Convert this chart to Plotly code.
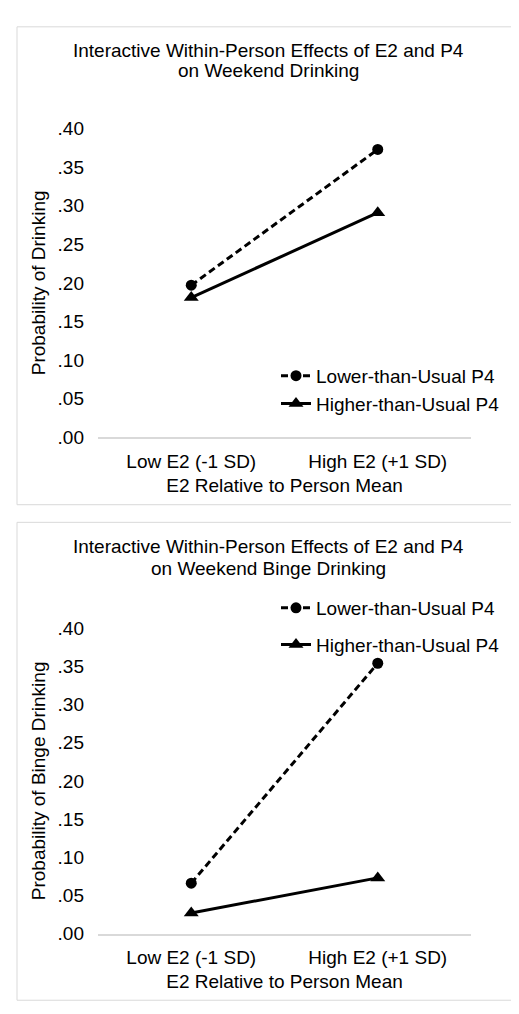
import plotly.graph_objects as go

# ---- data ----
categories = ["Low E2 (-1 SD)", "High E2 (+1 SD)"]
series_names = ["Lower-than-Usual P4", "Higher-than-Usual P4"]
drinking_lower = [0.197, 0.373]
drinking_higher = [0.181, 0.291]
binge_lower = [0.066, 0.354]
binge_higher = [0.027, 0.073]
y_tick_vals = [0.00, 0.05, 0.10, 0.15, 0.20, 0.25, 0.30, 0.35, 0.40]
y_tick_text = [".00", ".05", ".10", ".15", ".20", ".25", ".30", ".35", ".40"]
title_top = ["Interactive Within-Person Effects of E2 and P4", "on Weekend Drinking"]
title_bottom = ["Interactive Within-Person Effects of E2 and P4", "on Weekend Binge Drinking"]
x_title = "E2 Relative to Person Mean"
y_title_top = "Probability of Drinking"
y_title_bottom = "Probability of Binge Drinking"

W, H = 519, 1014
FONT = "Liberation Sans, Arial, sans-serif"
FS = 19
GRAY = "#d9d9d9"

def px_x(x):
    return x / W

def px_y(y):
    return 1 - y / H

fig = go.Figure()

def add_series(xa, ya, legend, lower, higher):
    fig.add_trace(go.Scatter(
        x=categories, y=lower, name=series_names[0], xaxis=xa, yaxis=ya,
        mode="lines+markers", legend=legend, legendgroup=legend + "a",
        line=dict(color="black", width=3, dash="7px,4px"),
        marker=dict(symbol="circle", size=11, color="black"),
    ))
    fig.add_trace(go.Scatter(
        x=categories, y=higher, name=series_names[1], xaxis=xa, yaxis=ya,
        mode="lines+markers", legend=legend, legendgroup=legend + "b",
        line=dict(color="black", width=3),
        marker=dict(symbol="triangle-up", size=13, color="black"),
    ))

add_series("x", "y", "legend", drinking_lower, drinking_higher)
add_series("x2", "y2", "legend2", binge_lower, binge_higher)

def xaxis_cfg(anchor):
    return dict(
        domain=[px_x(90), px_x(463)], anchor=anchor, type="category",
        range=[-0.5, 1.5], showline=True, linecolor=GRAY, linewidth=1.5,
        showgrid=False, zeroline=False, ticks="", ticklabelstandoff=6,
        tickfont=dict(family=FONT, size=FS, color="#000"),
        title=dict(text=x_title, font=dict(family=FONT, size=FS, color="#000"), standoff=8),
    )

def yaxis_cfg(anchor, top, bottom, title):
    return dict(
        domain=[px_y(bottom), px_y(top)], anchor=anchor, range=[0, 0.40],
        showline=False, showgrid=False, zeroline=False, ticks="",
        tickvals=y_tick_vals, ticktext=y_tick_text, ticklabelstandoff=13,
        tickfont=dict(family=FONT, size=FS, color="#000"),
        title=dict(text=title, font=dict(family=FONT, size=FS, color="#000"), standoff=6),
    )

annotations = []
for lines, ys in ((title_top, (33, 54)), (title_bottom, (540, 562))):
    for txt, yy in zip(lines, ys):
        annotations.append(dict(
            text=txt, x=px_x(260), y=px_y(yy), xref="paper", yref="paper",
            xanchor="center", yanchor="middle", showarrow=False,
            font=dict(family=FONT, size=FS, color="#000"),
        ))

shapes = [
    dict(type="rect", xref="paper", yref="paper", x0=px_x(9), x1=px_x(510),
         y0=px_y(497), y1=px_y(9), line=dict(color=GRAY, width=1)),
    dict(type="rect", xref="paper", yref="paper", x0=px_x(9), x1=px_x(510),
         y0=px_y(1003), y1=px_y(515), line=dict(color=GRAY, width=1)),
]

legend_font = dict(family=FONT, size=FS, color="#000")
fig.update_layout(
    width=W, height=H, margin=dict(l=0, r=0, t=0, b=0),
    paper_bgcolor="white", plot_bgcolor="white",
    xaxis=xaxis_cfg("y"), yaxis=yaxis_cfg("x", 113, 428, y_title_top),
    xaxis2=xaxis_cfg("y2"), yaxis2=yaxis_cfg("x2", 623, 935, y_title_bottom),
    legend=dict(x=px_x(268), y=px_y(346), xanchor="left", yanchor="top",
                bgcolor="rgba(0,0,0,0)", font=legend_font, tracegroupgap=0),
    legend2=dict(x=px_x(268), y=px_y(583), xanchor="left", yanchor="top",
                 bgcolor="rgba(0,0,0,0)", font=legend_font, tracegroupgap=9),
    annotations=annotations, shapes=shapes, showlegend=True,
)

fig.write_html("out.html")
